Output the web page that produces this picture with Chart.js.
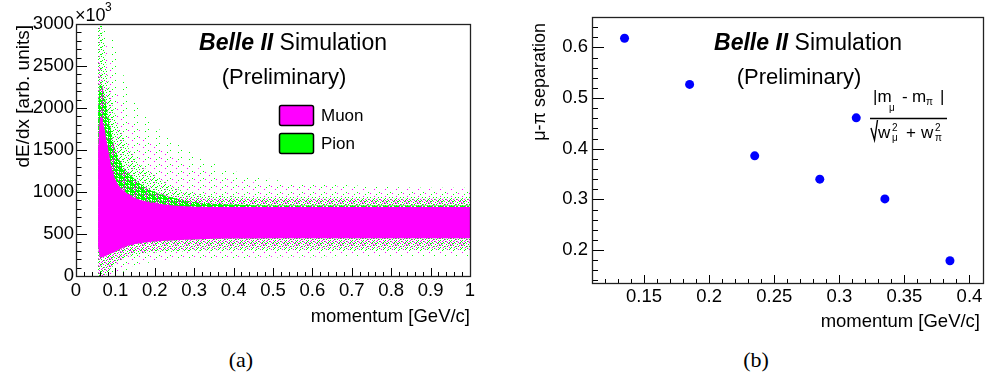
<!DOCTYPE html>
<html>
<head>
<meta charset="utf-8">
<script src="https://cdn.jsdelivr.net/npm/chart.js@4"></script>
<style>
  body { margin: 0; background: #fff; }
  #page { position: relative; width: 987px; height: 375px; overflow: hidden; background: #fff; }
  .box { position: absolute; top: 0; height: 340px; }
  #leftBox { left: 0; width: 480px; }
  #rightBox { left: 480px; width: 507px; }
  .cap { position: absolute; top: 346px; width: 60px; text-align: center; font: 22px "Liberation Serif", serif; line-height: 28px; }
</style>
</head>
<body>
<div id="page">
  <div class="box" id="leftBox"><canvas id="dedxChart"></canvas></div>
  <div class="box" id="rightBox"><canvas id="sepChart"></canvas></div>
  <div class="cap" style="left: 211px">(a)</div>
  <div class="cap" style="left: 726px">(b)</div>
</div>
<script>
const bandMomentum = [0.056, 0.062, 0.07, 0.08, 0.09, 0.1, 0.12, 0.15, 0.2, 0.25, 0.3, 0.4, 0.5, 0.6, 0.7, 0.8, 0.9, 1.0]
const muonCoreLow = [350, 220, 230, 250, 270, 290, 340, 380, 410, 425, 435, 445, 450, 450, 450, 450, 450, 450]
const muonCoreHigh = [1500, 1900, 1800, 1550, 1300, 1150, 1020, 930, 870, 840, 825, 820, 820, 820, 820, 820, 820, 820]
const muonHaloLow = [0, 0, 0, 50, 120, 150, 220, 270, 300, 310, 320, 330, 330, 330, 330, 330, 330, 330]
const muonHaloHigh = [2600, 2500, 2200, 1900, 1650, 1450, 1250, 1100, 1000, 950, 930, 920, 920, 920, 920, 920, 920, 920]
const muonOuterLow = [0, 0, 0, 0, 0, 0, 60, 130, 180, 200, 210, 220, 230, 230, 240, 240, 240, 240]
const muonOuterHigh = [3000, 3000, 2900, 2700, 2500, 2300, 2000, 1800, 1550, 1400, 1300, 1150, 1100, 1080, 1060, 1050, 1050, 1050]
const pionCoreLow = [350, 220, 230, 250, 270, 290, 340, 380, 410, 425, 435, 445, 450, 450, 450, 450, 450, 450]
const pionCoreHigh = [2000, 2300, 2200, 1950, 1700, 1500, 1300, 1150, 1000, 930, 880, 850, 840, 840, 840, 840, 840, 840]
const pionHaloLow = [0, 0, 0, 30, 100, 130, 200, 250, 280, 290, 300, 310, 310, 310, 310, 310, 310, 310]
const pionHaloHigh = [3000, 3000, 2800, 2400, 2100, 1900, 1650, 1400, 1200, 1050, 980, 950, 940, 940, 940, 940, 940, 940]
const pionOuterLow = [0, 0, 0, 0, 0, 0, 50, 120, 170, 190, 200, 210, 220, 220, 230, 230, 230, 230]
const pionOuterHigh = [3000, 3000, 3000, 3000, 2900, 2700, 2400, 2100, 1800, 1600, 1450, 1250, 1150, 1100, 1080, 1060, 1050, 1050]

const dedxXTicks = [0, 0.1, 0.2, 0.3, 0.4, 0.5, 0.6, 0.7, 0.8, 0.9, 1]
const dedxXLabels = ['0', '0.1', '0.2', '0.3', '0.4', '0.5', '0.6', '0.7', '0.8', '0.9', '1']
const dedxYTicks = [0, 500, 1000, 1500, 2000, 2500, 3000]
const dedxYLabels = ['0', '500', '1000', '1500', '2000', '2500', '3000']

// (b) mu-pi separation
const sepMomentum = [0.135, 0.185, 0.235, 0.285, 0.313, 0.335, 0.385]
const sepValues = [0.618, 0.527, 0.386, 0.340, 0.461, 0.301, 0.179]
const sepXTicks = [0.15, 0.2, 0.25, 0.3, 0.35, 0.4]
const sepXLabels = ['0.15', '0.2', '0.25', '0.3', '0.35', '0.4']
const sepYTicks = [0.2, 0.3, 0.4, 0.5, 0.6]
const sepYLabels = ['0.2', '0.3', '0.4', '0.5', '0.6']

const SANS = '"Liberation Sans", Arial, sans-serif'
const MAGENTA = '#ff00ff'
const GREEN = '#00ff00'

Chart.defaults.font.family = SANS
Chart.defaults.color = '#000'

/**
 * Repeating dot texture (11x7 tile) for the thinner parts of the cloud.
 * cells is a list of [x, y, color].
 */
function speckle (cells) {
  const tile = document.createElement('canvas')
  tile.width = 11
  tile.height = 7
  const c = tile.getContext('2d')
  cells.forEach(([x, y, color]) => {
    c.fillStyle = color
    c.fillRect(x, y, 1, 1)
  })
  return c.createPattern(tile, 'repeat')
}

const dot = color => ([x, y]) => [x, y, color]
const muonDots = [[0, 0], [5, 1], [9, 2], [2, 3], [7, 4], [4, 5], [10, 6], [1, 6], [8, 0], [3, 2], [6, 3], [0, 4], [9, 5]].map(dot(MAGENTA))
const pionDots = [[2, 0], [7, 1], [0, 2], [5, 3], [10, 3], [3, 4], [8, 5], [6, 6], [1, 5], [9, 4], [4, 1], [10, 0]].map(dot(GREEN))
const muonSparse = [[0, 0], [7, 4]].map(dot(MAGENTA))
const pionSparse = [[5, 3], [2, 5]].map(dot(GREEN))
// mostly green with some magenta: the region where pions sit above the muons
const pionMix = []
for (let y = 0; y < 7; y++) {
  for (let x = 0; x < 11; x++) {
    const k = (x * 5 + y * y * 3 + x * y * 2) % 9
    if (k < 5) pionMix.push([x, y, GREEN])
    else if (k === 6) pionMix.push([x, y, MAGENTA])
  }
}

function band (lows, highs, fillStyle, order) {
  const line = {
    borderWidth: 0,
    borderColor: 'transparent',
    pointRadius: 0,
    cubicInterpolationMode: 'monotone',
    order
  }
  return [
    { ...line, data: bandMomentum.map((p, i) => ({ x: p, y: lows[i] })), fill: false },
    { ...line, data: bandMomentum.map((p, i) => ({ x: p, y: highs[i] })), fill: '-1', backgroundColor: fillStyle }
  ]
}

function stepValues (scale, step) {
  const out = []
  for (let i = Math.ceil(scale.min / step - 1e-6); i * step <= scale.max + 1e-9; i++) out.push(i * step)
  return out
}

function isMajor (scale, v) {
  return scale.ticks.some(t => Math.abs(t.value - v) < 1e-6)
}

/**
 * ROOT style frame with ticks pointing into the plot.
 */
const rootAxes = {
  id: 'rootAxes',
  afterDraw (chart, args, opts) {
    const { ctx, chartArea: a } = chart
    const { x, y } = chart.scales
    ctx.save()
    ctx.strokeStyle = '#000'
    ctx.lineWidth = 1
    ctx.beginPath()
    stepValues(x, opts.xMinor).forEach(v => {
      const px = Math.round(x.getPixelForValue(v)) + 0.5
      const len = isMajor(x, v) ? opts.xMajorLen : opts.xMajorLen / 2
      ctx.moveTo(px, a.bottom)
      ctx.lineTo(px, a.bottom - len)
    })
    stepValues(y, opts.yMinor).forEach(v => {
      const py = Math.round(y.getPixelForValue(v)) + 0.5
      const len = isMajor(y, v) ? opts.yMajorLen : opts.yMajorLen / 2
      ctx.moveTo(a.left, py)
      ctx.lineTo(a.left + len, py)
    })
    ctx.stroke()
    ctx.lineWidth = 1.3
    ctx.strokeStyle = '#222'
    ctx.strokeRect(Math.round(a.left) + 0.5, Math.round(a.top) + 0.5, Math.round(a.right - a.left), Math.round(a.bottom - a.top))
    ctx.restore()
  }
}

function drawBelle (ctx, cx, cy) {
  const bold = 'italic bold 23px ' + SANS
  const reg = '23px ' + SANS
  ctx.textBaseline = 'middle'
  ctx.textAlign = 'left'
  ctx.font = bold
  const w1 = ctx.measureText('Belle II').width
  ctx.font = reg
  const w2 = ctx.measureText(' Simulation').width
  const x0 = cx - (w1 + w2) / 2
  ctx.font = bold
  ctx.fillText('Belle II', x0, cy)
  ctx.font = reg
  ctx.fillText(' Simulation', x0 + w1, cy)
  ctx.font = '22px ' + SANS
  ctx.textAlign = 'center'
  ctx.fillText('(Preliminary)', cx - 9, cy + 34)
}

function drawYTitle (ctx, text, cx, top, size) {
  ctx.save()
  ctx.translate(cx, top)
  ctx.rotate(-Math.PI / 2)
  ctx.font = size + 'px ' + SANS
  ctx.textAlign = 'right'
  ctx.textBaseline = 'middle'
  ctx.fillText(text, 0, 0)
  ctx.restore()
}

function drawXTitle (ctx, text, right, cy) {
  ctx.font = '18.5px ' + SANS
  ctx.textAlign = 'right'
  ctx.textBaseline = 'middle'
  ctx.fillText(text, right, cy)
}

const dedxText = {
  id: 'dedxText',
  afterDraw (chart) {
    const ctx = chart.ctx
    ctx.save()
    ctx.fillStyle = '#000'
    drawBelle(ctx, 293, 44)
    drawYTitle(ctx, 'dE/dx [arb. units]', 24, 25, 19)
    drawXTitle(ctx, 'momentum [GeV/c]', 470, 317)
    // x10^3 exponent
    ctx.font = '18px ' + SANS
    ctx.textAlign = 'left'
    ctx.textBaseline = 'middle'
    ctx.fillText('\u00d710', 75, 16)
    ctx.font = '12px ' + SANS
    ctx.fillText('3', 105, 8)
    // legend
    const entries = [['Muon', MAGENTA, 105], ['Pion', GREEN, 133]]
    entries.forEach(([label, color, top]) => {
      ctx.beginPath()
      ctx.roundRect(279.5, top + 0.5, 34, 20, 2)
      ctx.fillStyle = color
      ctx.fill()
      ctx.lineWidth = 1.5
      ctx.strokeStyle = '#000'
      ctx.stroke()
      ctx.fillStyle = '#000'
      ctx.font = '17px ' + SANS
      ctx.fillText(label, 321, top + 11)
    })
    ctx.restore()
  }
}

const sepText = {
  id: 'sepText',
  afterDraw (chart) {
    const ctx = chart.ctx
    ctx.save()
    ctx.fillStyle = '#000'
    drawBelle(ctx, 328, 44)
    drawYTitle(ctx, '\u03bc-\u03c0 separation', 60, 23, 18)
    drawXTitle(ctx, 'momentum [GeV/c]', 500, 322)
    // |m_mu - m_pi| / sqrt(w_mu^2 + w_pi^2)
    const big = '17px ' + SANS
    const small = '10px ' + SANS
    ctx.textAlign = 'left'
    ctx.textBaseline = 'alphabetic'
    const ox = -480
    ctx.font = big
    ctx.fillText('|m', 873 + ox, 102)
    ctx.fillText('-', 902 + ox, 102)
    ctx.fillText('m', 912 + ox, 102)
    ctx.fillText('|', 940 + ox, 102)
    ctx.font = small
    ctx.fillText('\u03bc', 889 + ox, 111)
    ctx.fillText('\u03c0', 926 + ox, 105)
    ctx.lineWidth = 1.4
    ctx.strokeStyle = '#000'
    ctx.beginPath()
    ctx.moveTo(870 + ox, 118.5)
    ctx.lineTo(947 + ox, 118.5)
    ctx.moveTo(871 + ox, 128)
    ctx.lineTo(874.5 + ox, 140)
    ctx.lineTo(877.5 + ox, 120)
    ctx.stroke()
    ctx.font = big
    ctx.fillText('w', 878 + ox, 138)
    ctx.fillText('+', 906 + ox, 138)
    ctx.fillText('w', 921 + ox, 138)
    ctx.font = small
    ctx.fillText('2', 892 + ox, 131)
    ctx.fillText('\u03bc', 892 + ox, 141)
    ctx.fillText('2', 935 + ox, 131)
    ctx.fillText('\u03c0', 935 + ox, 141)
    ctx.restore()
  }
}

function fixedTicks (values, labels, padding) {
  return {
    afterBuildTicks: s => { s.ticks = values.map(v => ({ value: v })) },
    ticks: {
      autoSkip: false,
      maxRotation: 0,
      padding,
      font: { size: 18.5 },
      callback: (v, i) => labels[i]
    },
    grid: { display: false, drawTicks: false },
    border: { display: false }
  }
}

function renderDedxChart () {
  const ctx = document.getElementById('dedxChart')
  const datasets = [
    ...band(pionOuterLow, pionOuterHigh, speckle(pionSparse), 6),
    ...band(muonOuterLow, muonOuterHigh, speckle(muonSparse), 5),
    ...band(pionHaloLow, pionHaloHigh, speckle(pionDots), 4),
    ...band(muonHaloLow, muonHaloHigh, speckle(muonDots), 3),
    ...band(pionCoreLow, pionCoreHigh, speckle(pionMix), 2),
    ...band(muonCoreLow, muonCoreHigh, MAGENTA, 1)
  ]
  return new Chart(ctx, {
    type: 'line',
    data: { datasets },
    options: {
      responsive: true,
      maintainAspectRatio: false,
      animation: false,
      layout: { padding: { top: 24, right: 10, left: 0, bottom: 0 } },
      plugins: { legend: { display: false }, tooltip: { enabled: false }, rootAxes: { xMinor: 0.02, yMinor: 100, xMajorLen: 8, yMajorLen: 11 } },
      scales: {
        x: { type: 'linear', min: 0, max: 1, afterFit: s => { s.height = 64 }, ...fixedTicks(dedxXTicks, dedxXLabels, 4) },
        y: { type: 'linear', min: 0, max: 3000, afterFit: s => { s.width = 76 }, ...fixedTicks(dedxYTicks, dedxYLabels, 2) }
      }
    },
    plugins: [rootAxes, dedxText]
  })
}

function renderSepChart () {
  const ctx = document.getElementById('sepChart')
  return new Chart(ctx, {
    type: 'scatter',
    data: {
      datasets: [{
        data: sepMomentum.map((p, i) => ({ x: p, y: sepValues[i] })),
        backgroundColor: '#0000ff',
        borderWidth: 0,
        pointRadius: 4.5
      }]
    },
    options: {
      responsive: true,
      maintainAspectRatio: false,
      animation: false,
      layout: { padding: { top: 17, right: 1, left: 0, bottom: 0 } },
      plugins: { legend: { display: false }, tooltip: { enabled: false }, rootAxes: { xMinor: 0.01, yMinor: 0.02, xMajorLen: 8, yMajorLen: 12 } },
      scales: {
        x: { type: 'linear', min: 0.11, max: 0.41, afterFit: s => { s.height = 57 }, ...fixedTicks(sepXTicks, sepXLabels, 3) },
        y: { type: 'linear', min: 0.135, max: 0.66, afterFit: s => { s.width = 112 }, ...fixedTicks(sepYTicks, sepYLabels, 4) }
      }
    },
    plugins: [rootAxes, sepText]
  })
}

renderDedxChart()
renderSepChart()
</script>
</body>
</html>
